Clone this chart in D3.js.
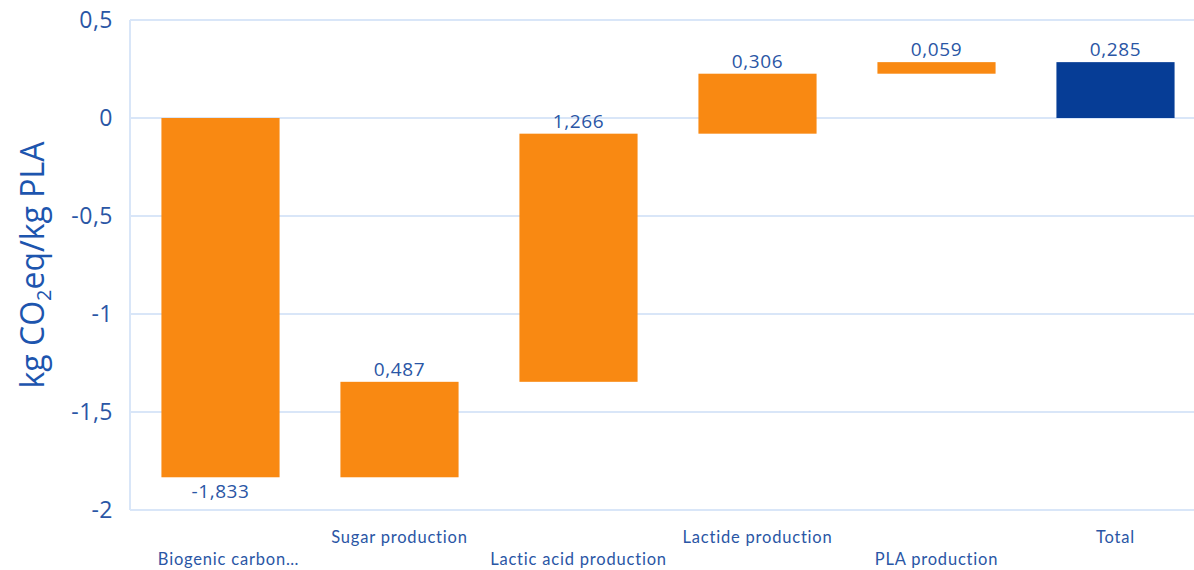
<!DOCTYPE html>
<html><head><meta charset="utf-8">
<script src="https://cdn.jsdelivr.net/npm/d3@7"></script>
<style>body{margin:0;background:#fff}svg{display:block}</style>
</head><body>
<svg id="chart" width="1194" height="570"></svg>
<script>
const categories = ["Biogenic carbon…","Sugar production","Lactic acid production","Lactide production","PLA production","Total"];
const deltas = [-1.833, 0.487, 1.266, 0.306, 0.059, 0.285];
const isTotal = [false,false,false,false,false,true];
const labels = ["-1,833","0,487","1,266","0,306","0,059","0,285"];
const yTicks = [0.5, 0, -0.5, -1, -1.5, -2];
const yTickLabels = ["0,5","0","-0,5","-1","-1,5","-2"];

(function(){
const svg = d3.select("#chart");
const W = 1194;
const mLeft = 131, mTop = 20, mBottom = 510;
const x = d3.scaleBand().domain(categories).range([131, 1205]).paddingInner(0.34).paddingOuter(0.17);
const y = d3.scaleLinear().domain([-2, 0.5]).range([mBottom, mTop]);

let run = 0;
const segs = categories.map((c,i)=>{
  let y0, y1;
  if (isTotal[i]) { y0 = 0; y1 = deltas[i]; }
  else { y0 = run; y1 = run + deltas[i]; run = y1; }
  return {c, y0, y1, v: deltas[i], total: isTotal[i], label: labels[i], i};
});

svg.append("g").selectAll("line").data(yTicks).join("line")
  .attr("x1", mLeft-1).attr("x2", W).attr("y1", d=>y(d)).attr("y2", d=>y(d))
  .attr("stroke", "#D9E6F8").attr("stroke-width", 2);
svg.append("line").attr("x1", mLeft-1).attr("x2", mLeft-1).attr("y1", y(0.5)).attr("y2", y(-2))
  .attr("stroke", "#D9E6F8").attr("stroke-width", 2);

svg.append("g").selectAll("text").data(yTicks).join("text")
  .attr("x", 113).attr("y", d=>y(d)).attr("dy", "0.36em")
  .attr("text-anchor", "end").attr("fill", "#2A56A5")
  .attr("font-family", "'Open Sans', sans-serif").attr("font-size", 23)
  .attr("letter-spacing", 0.5)
  .text((d,i)=>yTickLabels[i]);

svg.append("g").selectAll("rect").data(segs).join("rect")
  .attr("x", d=>x(d.c)).attr("width", x.bandwidth())
  .attr("y", d=>y(Math.max(d.y0,d.y1))).attr("height", d=>Math.abs(y(d.y0)-y(d.y1)))
  .attr("fill", d=>d.total ? "#063D96" : "#F98912");

svg.append("g").selectAll("text").data(segs).join("text")
  .attr("x", d=>x(d.c)+x.bandwidth()/2)
  .attr("y", d=> d.v >= 0 ? y(Math.max(d.y0,d.y1)) - 6 : y(Math.min(d.y0,d.y1)) + 21)
  .attr("text-anchor", "middle").attr("fill", "#2A56A5")
  .attr("font-family", "'Open Sans', sans-serif").attr("font-size", 19)
  .attr("letter-spacing", 0.6)
  .text(d=>d.label);

svg.append("g").selectAll("text").data(segs).join("text")
  .attr("x", d=>x(d.c)+x.bandwidth()/2 + (d.i===0?8:0))
  .attr("y", d=> d.i % 2 === 0 ? 565 : 543)
  .attr("text-anchor", "middle").attr("fill", "#2A56A5")
  .attr("font-family", "Lato, sans-serif").attr("font-size", 16.5)
  .attr("letter-spacing", 0.8)
  .text(d=>d.c);

const t = svg.append("text")
  .attr("transform", "translate(44,265) rotate(-90)")
  .attr("text-anchor", "middle").attr("fill", "#1D55AE")
  .attr("font-family", "'Open Sans', sans-serif").attr("font-size", 32);
t.append("tspan").text("kg CO");
t.append("tspan").attr("font-size", 20).attr("dy", 7).text("2");
t.append("tspan").attr("dy", -7).text("eq/kg PLA");
})();
</script>
</body></html>
